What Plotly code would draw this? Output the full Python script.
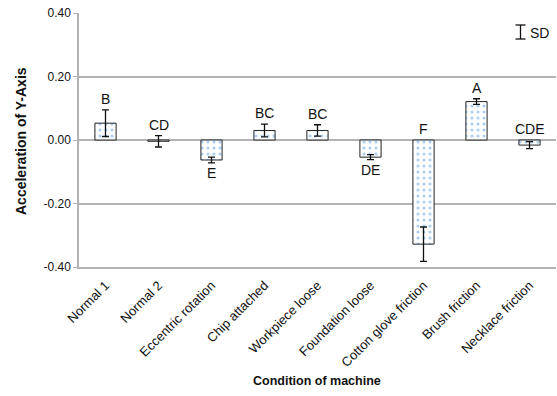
import plotly.graph_objects as go

categories = ["Normal 1", "Normal 2", "Eccentric rotation", "Chip attached",
              "Workpiece loose", "Foundation loose", "Cotton glove friction",
              "Brush friction", "Necklace friction"]
means = [0.053, -0.004, -0.063, 0.030, 0.030, -0.054, -0.328, 0.121, -0.016]
sds = [0.042, 0.018, 0.009, 0.020, 0.018, 0.008, 0.054, 0.009, 0.011]
letters = ["B", "CD", "E", "BC", "BC", "DE", "F", "A", "CDE"]
letter_side = ["above", "above", "below", "above", "above", "below", "above", "above", "above"]
y_ticks = [-0.40, -0.20, 0.00, 0.20, 0.40]

FONT = "Liberation Sans, Arial, sans-serif"
GRID = "#b3b3b3"
TXT = "#111111"

W, H = 557, 396
L, R, T, B = 79, 1, 13, 129


def px(xp):
    return (xp - L) / (W - L - R)


def py(yp):
    return 1 - (yp - T) / (H - T - B)


fig = go.Figure()
fig.add_trace(go.Bar(
    x=categories, y=means, width=0.4,
    marker=dict(color="white", line=dict(color="#222222", width=1),
                pattern=dict(shape=".", fgcolor="#5b9be6", bgcolor="white",
                             size=6, solidity=0.22)),
    error_y=dict(type="data", array=sds, visible=True, color=TXT,
                 thickness=1.3, width=3.5),
    showlegend=False,
))

annotations = []
for c, m, s, lab, side in zip(categories, means, sds, letters, letter_side):
    if side == "above":
        annotations.append(dict(x=c, y=max(0.0, m + s), xref="x", yref="y", text=lab,
                                showarrow=False, yanchor="bottom", yshift=1,
                                font=dict(family=FONT, size=14, color=TXT)))
    else:
        annotations.append(dict(x=c, y=m - s, xref="x", yref="y", text=lab,
                                showarrow=False, yanchor="top", yshift=0,
                                font=dict(family=FONT, size=14, color=TXT)))

annotations.append(dict(x=px(528), y=py(33), xref="paper", yref="paper", text="SD",
                        showarrow=False, xanchor="left", yanchor="middle",
                        font=dict(family=FONT, size=14, color=TXT)))
# axis titles
annotations.append(dict(x=px(21), y=py(141), xref="paper", yref="paper",
                        text="<b>Acceleration of Y-Axis</b>", textangle=-90,
                        showarrow=False, xanchor="center", yanchor="middle",
                        font=dict(family=FONT, size=14, color=TXT)))
annotations.append(dict(x=px(317), y=py(381), xref="paper", yref="paper",
                        text="<b>Condition of machine</b>",
                        showarrow=False, xanchor="center", yanchor="middle",
                        font=dict(family=FONT, size=12.5, color=TXT)))
fig.update_layout(annotations=annotations)

lx = 520.5
for (x0, y0, x1, y1) in [(lx, 25, lx, 39), (lx - 5, 25, lx + 5, 25), (lx - 5, 39, lx + 5, 39)]:
    fig.add_shape(type="line", xref="paper", yref="paper",
                  x0=px(x0), y0=py(y0), x1=px(x1), y1=py(y1),
                  line=dict(color=TXT, width=1.3))

fig.update_layout(
    width=W, height=H,
    margin=dict(l=L, r=R, t=T, b=B),
    paper_bgcolor="white", plot_bgcolor="white",
    font=dict(family=FONT, color=TXT),
)
fig.update_xaxes(
    tickangle=-45, tickfont=dict(family=FONT, size=13, color=TXT),
    showgrid=False, showline=True, linecolor=GRID, linewidth=1.5,
    ticks="", automargin=False, ticklabelstandoff=4,
)
fig.update_yaxes(
    range=[-0.40, 0.40], tickvals=y_ticks, ticktext=[f"{v:.2f}" for v in y_ticks],
    tickfont=dict(family=FONT, size=12, color=TXT),
    showgrid=True, gridcolor=GRID, gridwidth=1.5,
    zeroline=True, zerolinecolor=GRID, zerolinewidth=1.5,
    showline=True, linecolor=GRID, linewidth=1.5,
    ticks="outside", ticklen=4, tickcolor=GRID, automargin=False,
)

fig.write_html("out.html", config={"displayModeBar": False},
               post_script="document.body.style.margin='0';document.body.style.padding='0';")
